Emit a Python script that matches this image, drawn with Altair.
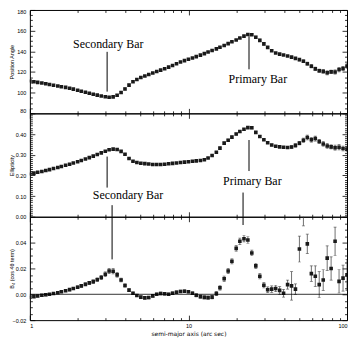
import altair as alt
import pandas as pd

# ---------------- data ----------------
radius = [1.00, 1.06, 1.12, 1.19, 1.26, 1.33, 1.41, 1.50, 1.58, 1.68,
          1.78, 1.88, 2.00, 2.11, 2.24, 2.37, 2.51, 2.66, 2.82, 2.99,
          3.16, 3.35, 3.55, 3.76, 3.98, 4.22, 4.47, 4.73, 5.01, 5.31,
          5.62, 5.96, 6.31, 6.68, 7.08, 7.50, 7.94, 8.41, 8.91, 9.44,
          10.0, 10.6, 11.2, 11.9, 12.6, 13.3, 14.1, 15.0, 15.8, 16.8,
          17.8, 18.8, 20.0, 21.1, 22.4, 23.7, 25.1, 26.6, 28.2, 29.9,
          31.6, 33.5, 35.5, 37.6, 39.8, 42.2, 44.7, 47.3, 50.1, 53.1,
          56.2, 59.6, 63.1, 66.8, 70.8, 75.0, 79.4, 84.1, 89.1, 94.4,
          100.0]

pa = [111.3, 110.6, 110.0, 109.3, 108.6, 107.9, 107.2, 106.5, 105.8, 105.1,
      104.3, 103.4, 102.4, 101.4, 100.4, 99.4, 98.5, 97.6, 96.8, 96.1,
      95.6, 95.9, 97.5, 100.2, 103.6, 107.3, 110.5, 112.8, 114.6, 116.2,
      117.6, 119.0, 120.4, 121.8, 123.2, 124.7, 126.3, 128.0, 129.6, 131.0,
      132.3, 133.6, 134.9, 136.3, 137.8, 139.3, 140.8, 142.4, 144.0, 145.7,
      147.4, 149.2, 151.0, 152.9, 154.7, 156.3, 156.0, 153.6, 150.6, 147.2,
      143.8, 140.5, 138.3, 137.3, 136.5, 135.5, 134.4, 133.2, 132.0, 130.4,
      128.0, 125.6, 123.0, 121.2, 120.6, 119.2, 120.1, 120.0, 122.4, 123.4,
      125.8]
pa_err = [0.4, 0.4, 0.4, 0.4, 0.4, 0.4, 0.4, 0.4, 0.4, 0.4,
          0.4, 0.4, 0.4, 0.4, 0.4, 0.4, 0.4, 0.4, 0.4, 0.4,
          0.4, 0.5, 0.9, 0.9, 1.0, 1.0, 0.9, 0.8, 0.6, 0.5,
          0.4, 0.4, 0.4, 0.4, 0.4, 0.4, 0.4, 0.4, 0.4, 0.4,
          0.4, 0.4, 0.4, 0.4, 0.4, 0.4, 0.4, 0.4, 0.4, 0.4,
          0.4, 0.4, 0.4, 0.4, 0.5, 0.6, 0.9, 1.2, 1.3, 1.2,
          1.0, 0.8, 0.6, 0.6, 0.6, 0.7, 0.8, 1.0, 1.2, 1.4,
          1.5, 1.6, 1.8, 1.6, 1.8, 2.0, 1.8, 2.0, 2.2, 2.0,
          2.4]

ell = [0.207, 0.211, 0.215, 0.219, 0.224, 0.228, 0.233, 0.238, 0.243, 0.249,
       0.254, 0.260, 0.266, 0.272, 0.279, 0.286, 0.293, 0.301, 0.309, 0.317,
       0.324, 0.327, 0.325, 0.316, 0.302, 0.282, 0.268, 0.262, 0.259, 0.257,
       0.255, 0.253, 0.253, 0.253, 0.254, 0.256, 0.258, 0.260, 0.262, 0.264,
       0.266, 0.268, 0.270, 0.272, 0.276, 0.284, 0.296, 0.312, 0.332, 0.356,
       0.370, 0.385, 0.400, 0.412, 0.423, 0.431, 0.430, 0.408, 0.388, 0.372,
       0.358, 0.347, 0.341, 0.338, 0.336, 0.335, 0.337, 0.345, 0.356, 0.370,
       0.383, 0.372, 0.378, 0.364, 0.352, 0.342, 0.338, 0.334, 0.336, 0.330,
       0.327]
ell_err = [0.002, 0.002, 0.002, 0.002, 0.002, 0.002, 0.002, 0.002, 0.002, 0.002,
           0.002, 0.002, 0.002, 0.002, 0.002, 0.002, 0.002, 0.002, 0.002, 0.002,
           0.003, 0.003, 0.003, 0.003, 0.003, 0.002, 0.002, 0.002, 0.002, 0.002,
           0.002, 0.002, 0.002, 0.002, 0.002, 0.002, 0.002, 0.002, 0.002, 0.002,
           0.002, 0.002, 0.002, 0.002, 0.003, 0.003, 0.003, 0.003, 0.005, 0.005,
           0.005, 0.005, 0.005, 0.005, 0.005, 0.005, 0.005, 0.004, 0.004, 0.004,
           0.004, 0.004, 0.004, 0.004, 0.004, 0.005, 0.006, 0.008, 0.009, 0.010,
           0.012, 0.011, 0.012, 0.010, 0.011, 0.012, 0.010, 0.012, 0.013, 0.012,
           0.014]

b4 = [-0.0022, -0.0018, -0.0013, -0.0008, -0.0004, 0.0000, 0.0006, 0.0012, 0.0020, 0.0028,
      0.0036, 0.0045, 0.0055, 0.0065, 0.0077, 0.0088, 0.0098, 0.0113, 0.0130, 0.0155,
      0.0180, 0.0178, 0.0150, 0.0110, 0.0068, 0.0032, 0.0008, -0.0010, -0.0022, -0.0028,
      -0.0025, -0.0012, 0.0000, 0.0006, 0.0004, 0.0000, 0.0008, 0.0016, 0.0022, 0.0024,
      0.0020, 0.0008, -0.0008, -0.0018, -0.0024, -0.0026, -0.0022, 0.0005, 0.0050, 0.0120,
      0.0180, 0.0255, 0.0355, 0.0410, 0.0430, 0.0420, 0.0320, 0.0220, 0.0140, 0.0070,
      0.0035, 0.0040, 0.0045, 0.0030, 0.0008, 0.0075, 0.0065, 0.0040, 0.0350, 0.0650,
      0.0390, 0.0160, 0.0140, 0.0075, 0.0110, 0.0280, 0.0200, 0.0410, 0.0100, 0.0125,
      0.0150]
b4_err = [0.0008, 0.0008, 0.0008, 0.0008, 0.0008, 0.0008, 0.0008, 0.0008, 0.0008, 0.0008,
          0.0009, 0.0009, 0.0010, 0.0010, 0.0011, 0.0012, 0.0013, 0.0014, 0.0016, 0.0018,
          0.0020, 0.0020, 0.0018, 0.0015, 0.0012, 0.0010, 0.0009, 0.0009, 0.0008, 0.0008,
          0.0010, 0.0010, 0.0010, 0.0010, 0.0010, 0.0010, 0.0010, 0.0010, 0.0010, 0.0010,
          0.0010, 0.0010, 0.0012, 0.0012, 0.0012, 0.0012, 0.0014, 0.0016, 0.0018, 0.0020,
          0.0020, 0.0020, 0.0022, 0.0025, 0.0025, 0.0025, 0.0022, 0.0020, 0.0020, 0.0020,
          0.0022, 0.0025, 0.0025, 0.0030, 0.0030, 0.0035, 0.0110, 0.0040, 0.0100, 0.0120,
          0.0075, 0.0060, 0.0080, 0.0100, 0.0080, 0.0095, 0.0090, 0.0110, 0.0090, 0.0100,
          0.0120]

# tick values
x_major = [1, 10, 100]
x_minor = [2, 3, 4, 5, 6, 7, 8, 9, 20, 30, 40, 50, 60, 70, 80, 90]
pa_major = [80, 100, 120, 140, 160, 180]
pa_minor = [85, 90, 95, 105, 110, 115, 125, 130, 135, 145, 150, 155, 165, 170, 175]
ell_major = [0.0, 0.1, 0.2, 0.3, 0.4]
ell_minor = [0.01, 0.02, 0.03, 0.04, 0.05, 0.06, 0.07, 0.08, 0.09,
             0.11, 0.12, 0.13, 0.14, 0.15, 0.16, 0.17, 0.18, 0.19,
             0.21, 0.22, 0.23, 0.24, 0.25, 0.26, 0.27, 0.28, 0.29,
             0.31, 0.32, 0.33, 0.34, 0.35, 0.36, 0.37, 0.38, 0.39,
             0.41, 0.42, 0.43, 0.44, 0.45, 0.46, 0.47, 0.48, 0.49, 0.5]
b4_major = [-0.02, 0.0, 0.02, 0.04]
b4_minor = [-0.015, -0.01, -0.005, 0.005, 0.01, 0.015, 0.025, 0.03, 0.035,
            0.045, 0.05, 0.055, 0.06]

# annotations (label, radius, value) and (radius, value1, value2)
pa_texts = [("Secondary Bar", 3.12, 147.0), ("Primary Bar", 27.4, 113.2)]
pa_lines = [(3.07, 101.0, 139.5), (24.1, 122.6, 154.6)]
ell_texts = [("Secondary Bar", 4.16, 0.105), ("Primary Bar", 25.3, 0.175)]
ell_lines = [(3.07, 0.141, 0.291), (3.30, 0.0, 0.056),
             (24.1, 0.221, 0.371), (22.1, 0.0, 0.117)]
b4_lines = [(3.30, 0.027, 0.06), (22.1, 0.0536, 0.06)]

SANS = "Liberation Sans"
SERIF = "Liberation Serif"
W, H = 319, 104
MAJ, MIN = 5, 2.5


def yaxis(orient, vals, size, fmt=None, title=None, flush=False):
    kw = dict(orient=orient, values=vals, tickSize=size, offset=-size,
              domain=False, grid=False, tickColor="black", tickWidth=0.8,
              title=title)
    if fmt is not None:
        kw.update(labels=True, format=fmt, labelFont=SANS, labelFontSize=5.5,
                  labelColor="black", labelPadding=4, labelFlush=flush,
                  labelOverlap=False, titleFont=SANS, titleFontSize=5.5,
                  titleFontWeight="normal", titleColor="black",
                  titlePadding=2, minExtent=18, maxExtent=18)
    else:
        kw.update(labels=False, minExtent=0, maxExtent=0)
    return alt.Axis(**kw)


def xaxis(orient, vals, size, show=False):
    kw = dict(orient=orient, values=vals, tickSize=size, offset=-size,
              domain=False, grid=False, tickColor="black", tickWidth=0.8)
    if show:
        kw.update(labels=True, format="d", labelFont=SANS, labelFontSize=5.5,
                  labelColor="black", labelPadding=3, labelOverlap=False,
                  title="semi-major axis (arc sec)", titleFont="DejaVu Sans",
                  titleFontSize=6, titleFontWeight="normal",
                  titleColor="black", titlePadding=2)
    else:
        kw.update(labels=False, title=None)
    return alt.Axis(**kw)


def panel(vals, errs, ydom, ymaj, ymin, fmt, ytitle, flush, show_x,
          texts, lines, zero):
    df = pd.DataFrame({
        "r": radius,
        "v": vals,
        "lo": [v - e for v, e in zip(vals, errs)],
        "hi": [v + e for v, e in zip(vals, errs)],
    })
    xs = alt.Scale(type="log", domain=[1, 100], nice=False)
    ys = alt.Scale(domain=ydom, nice=False, zero=False)

    rules = alt.Chart(df).mark_rule(clip=True, color="#333", strokeWidth=0.7).encode(
        x=alt.X("r:Q", scale=xs, axis=xaxis("bottom", x_major, MAJ, show_x)),
        y=alt.Y("lo:Q", scale=ys, axis=yaxis("left", ymaj, MAJ, fmt, ytitle, flush)),
        y2="hi:Q",
    )
    caplo = alt.Chart(df).mark_tick(clip=True, orient="horizontal", size=3,
                                    thickness=0.7, color="#333").encode(
        x=alt.X("r:Q", scale=xs, axis=xaxis("bottom", x_minor, MIN)),
        y=alt.Y("lo:Q", scale=ys, axis=yaxis("left", ymin, MIN)),
    )
    caphi = alt.Chart(df).mark_tick(clip=True, orient="horizontal", size=3,
                                    thickness=0.7, color="#333").encode(
        x=alt.X("r:Q", scale=xs, axis=xaxis("top", x_major, MAJ)),
        y=alt.Y("hi:Q", scale=ys, axis=yaxis("right", ymaj, MAJ)),
    )
    pts = alt.Chart(df).mark_point(clip=True, shape="square", filled=True,
                                   size=13, color="#1a1a1a", opacity=1).encode(
        x=alt.X("r:Q", scale=xs, axis=xaxis("top", x_minor, MIN)),
        y=alt.Y("v:Q", scale=ys, axis=yaxis("right", ymin, MIN)),
    )
    layers = [rules, caplo, caphi, pts]

    if lines:
        ldf = pd.DataFrame(lines, columns=["r", "v1", "v2"])
        layers.append(alt.Chart(ldf).mark_rule(color="black", strokeWidth=1).encode(
            x=alt.X("r:Q", scale=xs, axis=None),
            y=alt.Y("v1:Q", scale=ys, axis=None),
            y2="v2:Q",
        ))
    if texts:
        tdf = pd.DataFrame(texts, columns=["label", "r", "v"])
        layers.append(alt.Chart(tdf).mark_text(font=SERIF, fontSize=12, color="black",
                                               align="center", baseline="middle").encode(
            x=alt.X("r:Q", scale=xs, axis=None),
            y=alt.Y("v:Q", scale=ys, axis=None),
            text="label:N",
        ))
    if zero:
        zdf = pd.DataFrame({"z": [0.0]})
        layers.append(alt.Chart(zdf).mark_rule(color="black", strokeWidth=0.8).encode(
            y=alt.Y("z:Q", scale=ys, axis=None),
        ))

    return alt.layer(*layers).resolve_axis(
        x="independent", y="independent"
    ).properties(width=W, height=H)


p1 = panel(pa, pa_err, [80, 180], pa_major, pa_minor, "d", "Position Angle",
           True, False, pa_texts, pa_lines, False)
p2 = panel(ell, ell_err, [0, 0.5], ell_major, ell_minor, ".2f", "Ellipticity",
           False, False, ell_texts, ell_lines, False)
p3 = panel(b4, b4_err, [-0.02, 0.06], b4_major, b4_minor, ".2f",
           "B\u2084 (cos 4\u03b8 term)", False, True, None, b4_lines, True)

chart = alt.vconcat(p1, p2, p3, spacing=0, bounds="flush").properties(
    padding={"left": 1, "top": 0, "right": 0, "bottom": 0},
    background="white",
).configure_view(stroke="black", strokeWidth=1)

chart.save("out.html", embed_options={"renderer": "svg", "actions": False})
